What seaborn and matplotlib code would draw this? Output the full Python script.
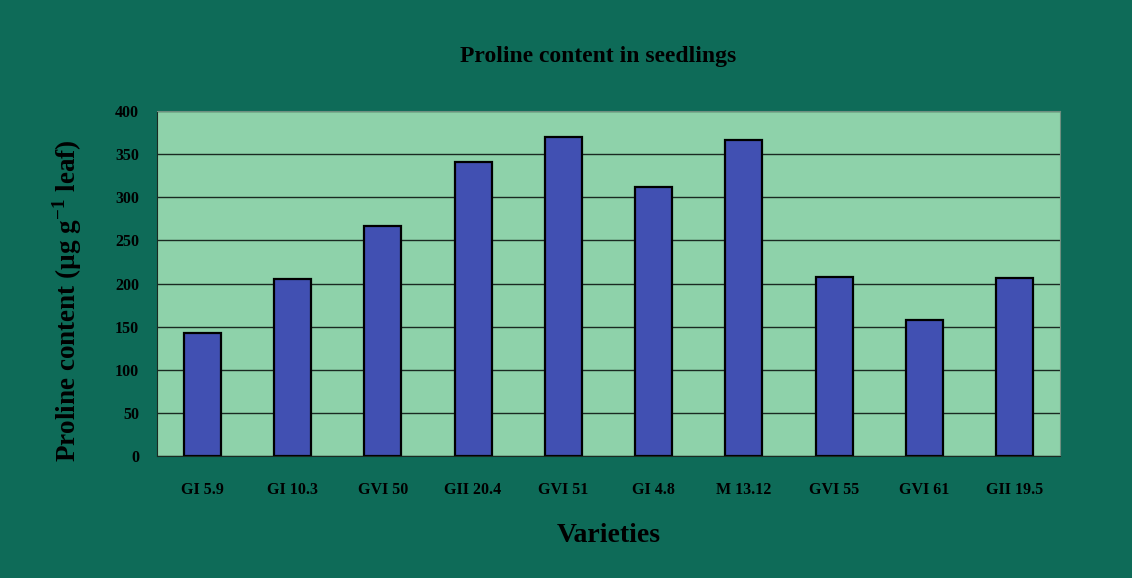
import matplotlib
matplotlib.use("Agg")
import matplotlib.pyplot as plt
import seaborn as sns
import pandas as pd
import numpy as np

varieties = ["GI 5.9", "GI 10.3", "GVI 50", "GII 20.4", "GVI 51",
             "GI 4.8", "M 13.12", "GVI 55", "GVI 61", "GII 19.5"]
proline = [143, 205, 267, 341, 370, 312, 366, 207, 158, 206]

df = pd.DataFrame({"variety": varieties, "proline": proline})

sns.set_style("white")
plt.rcParams['font.family'] = ['Liberation Serif', 'DejaVu Serif']
plt.rcParams['font.weight'] = 'bold'
plt.rcParams['text.color'] = 'black'
plt.rcParams['axes.labelcolor'] = 'black'
plt.rcParams['mathtext.fontset'] = 'custom'
plt.rcParams['mathtext.rm'] = 'Liberation Serif:bold'
plt.rcParams['mathtext.bf'] = 'Liberation Serif:bold'

bg = "#0e6b58"
fig = plt.figure(figsize=(11.32, 5.78), dpi=100, facecolor=bg)
ax = fig.add_axes([0.1387, 0.211, 0.7977, 0.597])
ax.set_facecolor("#8ed2aa")

sns.barplot(data=df, x="variety", y="proline", color="#4150b2",
            edgecolor="black", linewidth=1.6, width=0.41, saturation=1, ax=ax)

ax.set_ylim(0, 400)
ax.set_xlim(-0.5, len(varieties) - 0.5)
ax.set_yticks(range(0, 401, 50))
ax.yaxis.grid(True, color="#1a2a22", linewidth=1.0)
ax.set_axisbelow(True)

for s in ["top", "right"]:
    ax.spines[s].set_color("#6f8f80")
    ax.spines[s].set_linewidth(0.8)
ax.spines["left"].set_color("#1a2a22")
ax.spines["bottom"].set_color("#1a2a22")

ax.tick_params(axis="y", length=5, color="#1a2a22", labelsize=11.5, pad=8)
ax.tick_params(axis="x", length=0, labelsize=11.5, pad=19)
for t in ax.get_xticklabels() + ax.get_yticklabels():
    t.set_fontweight("bold")
    t.set_color("black")

# small ticks between categories on the x axis
ax.set_xticks(np.arange(-0.5, len(varieties), 1), minor=True)
ax.tick_params(axis="x", which="minor", length=5, color="#1a2a22")

ax.set_xlabel("Varieties", fontsize=20, fontweight="bold", labelpad=18)
ax.set_ylabel("Proline content (µg g$^{\\mathrm{-1}}$ leaf)", fontsize=19.5,
              fontweight="bold")
ax.yaxis.set_label_coords(-0.081, 0.45)
fig.text(0.528, 0.903, "Proline content in seedlings", ha="center", va="center",
         fontsize=17, fontweight="bold")

fig.savefig("out.png", dpi=100, facecolor=bg)
